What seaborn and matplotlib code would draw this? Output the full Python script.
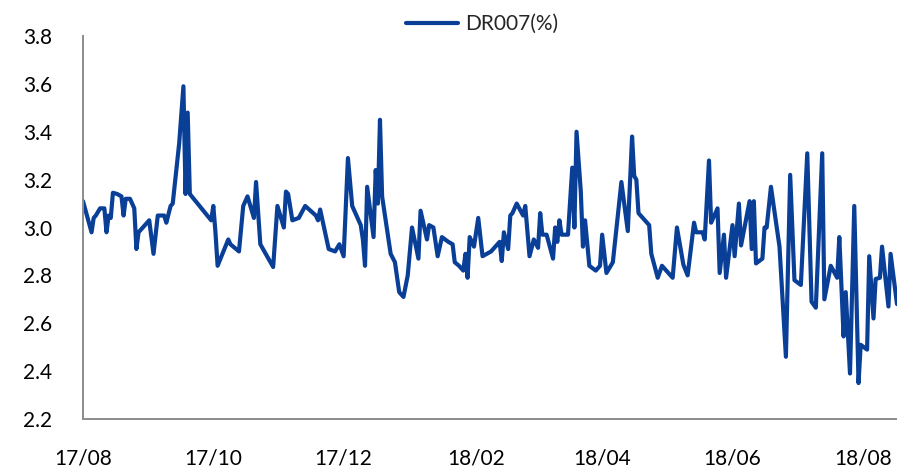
import matplotlib
matplotlib.use("Agg")
import matplotlib.pyplot as plt
import matplotlib.dates as mdates
import pandas as pd
import seaborn as sns

# DR007 interbank repo rate (%), Aug 2017 - Aug 2018
dates = [
    "2017-08-01", "2017-08-05", "2017-08-06", "2017-08-07", "2017-08-09", "2017-08-11",
    "2017-08-12", "2017-08-13", "2017-08-14", "2017-08-15", "2017-08-17", "2017-08-19",
    "2017-08-20", "2017-08-21", "2017-08-23", "2017-08-25", "2017-08-26", "2017-08-27",
    "2017-08-29", "2017-09-01", "2017-09-03", "2017-09-05", "2017-09-08", "2017-09-09",
    "2017-09-11", "2017-09-12", "2017-09-15", "2017-09-17", "2017-09-18", "2017-09-19",
    "2017-09-20", "2017-09-30", "2017-10-01", "2017-10-02", "2017-10-03", "2017-10-08",
    "2017-10-09", "2017-10-13", "2017-10-15", "2017-10-17", "2017-10-20", "2017-10-21",
    "2017-10-23", "2017-10-29", "2017-10-31", "2017-11-03", "2017-11-04", "2017-11-05",
    "2017-11-07", "2017-11-10", "2017-11-13", "2017-11-18", "2017-11-19", "2017-11-20",
    "2017-11-24", "2017-11-27", "2017-11-29", "2017-12-01", "2017-12-03", "2017-12-05",
    "2017-12-06", "2017-12-09", "2017-12-10", "2017-12-11", "2017-12-12", "2017-12-15",
    "2017-12-16", "2017-12-17", "2017-12-18", "2017-12-19", "2017-12-23", "2017-12-25",
    "2017-12-27", "2017-12-29", "2017-12-31", "2018-01-02", "2018-01-05", "2018-01-06",
    "2018-01-09", "2018-01-10", "2018-01-12", "2018-01-14", "2018-01-16", "2018-01-19",
    "2018-01-21", "2018-01-22", "2018-01-24", "2018-01-26", "2018-01-27", "2018-01-28",
    "2018-01-29", "2018-01-31", "2018-02-02", "2018-02-04", "2018-02-08", "2018-02-12",
    "2018-02-13", "2018-02-14", "2018-02-16", "2018-02-17", "2018-02-18", "2018-02-20",
    "2018-02-23", "2018-02-24", "2018-02-26", "2018-02-28", "2018-03-02", "2018-03-03",
    "2018-03-04", "2018-03-06", "2018-03-09", "2018-03-10", "2018-03-11", "2018-03-12",
    "2018-03-13", "2018-03-16", "2018-03-18", "2018-03-19", "2018-03-20", "2018-03-22",
    "2018-03-23", "2018-03-24", "2018-03-26", "2018-03-29", "2018-03-31", "2018-04-01",
    "2018-04-03", "2018-04-06", "2018-04-10", "2018-04-13", "2018-04-15", "2018-04-16",
    "2018-04-17", "2018-04-18", "2018-04-23", "2018-04-24", "2018-04-27", "2018-04-29",
    "2018-05-04", "2018-05-06", "2018-05-09", "2018-05-11", "2018-05-14", "2018-05-15",
    "2018-05-18", "2018-05-19", "2018-05-21", "2018-05-22", "2018-05-25", "2018-05-26",
    "2018-05-28", "2018-05-29", "2018-06-01", "2018-06-02", "2018-06-04", "2018-06-05",
    "2018-06-09", "2018-06-10", "2018-06-11", "2018-06-12", "2018-06-15", "2018-06-16",
    "2018-06-17", "2018-06-19", "2018-06-23", "2018-06-26", "2018-06-28", "2018-06-30",
    "2018-07-03", "2018-07-06", "2018-07-08", "2018-07-10", "2018-07-13", "2018-07-14",
    "2018-07-17", "2018-07-20", "2018-07-21", "2018-07-23", "2018-07-24", "2018-07-26",
    "2018-07-28", "2018-07-30", "2018-07-31", "2018-08-03", "2018-08-04", "2018-08-06",
    "2018-08-07", "2018-08-09", "2018-08-10", "2018-08-13", "2018-08-14", "2018-08-17",
]

dr007 = [
    3.11, 2.98, 3.04, 3.05, 3.08, 3.08,
    2.98, 3.05, 3.04, 3.145, 3.14, 3.13,
    3.05, 3.12, 3.12, 3.08, 2.91, 2.98,
    3.00, 3.03, 2.89, 3.05, 3.05, 3.02,
    3.09, 3.10, 3.35, 3.59, 3.14, 3.48,
    3.14, 3.03, 3.09, 2.98, 2.84, 2.95,
    2.93, 2.90, 3.09, 3.13, 3.04, 3.19,
    2.93, 2.835, 3.09, 3.00, 3.15, 3.14,
    3.03, 3.04, 3.09, 3.05, 3.03, 3.075,
    2.91, 2.90, 2.93, 2.88, 3.29, 3.09,
    3.07, 3.01, 2.95, 2.84, 3.17, 2.96,
    3.24, 3.10, 3.45, 3.13, 2.89, 2.855,
    2.73, 2.71, 2.80, 3.00, 2.87, 3.07,
    2.95, 3.01, 3.00, 2.88, 2.96, 2.94,
    2.93, 2.855, 2.84, 2.82, 2.89, 2.79,
    2.96, 2.92, 3.04, 2.88, 2.90, 2.94,
    2.86, 2.98, 2.91, 3.05, 3.06, 3.10,
    3.05, 3.09, 2.88, 2.95, 2.915, 3.06,
    2.97, 2.97, 2.87, 3.00, 2.94, 3.03,
    2.97, 2.97, 3.25, 3.00, 3.40, 3.15,
    2.92, 3.03, 2.84, 2.82, 2.84, 2.97,
    2.81, 2.855, 3.19, 2.985, 3.38, 3.215,
    3.20, 3.06, 3.01, 2.89, 2.79, 2.84,
    2.79, 3.00, 2.845, 2.80, 3.02, 2.98,
    2.98, 2.95, 3.28, 3.02, 3.08, 2.81,
    2.97, 2.79, 3.01, 2.88, 3.10, 2.925,
    3.11, 2.91, 3.11, 2.85, 2.87, 3.00,
    3.00, 3.17, 2.92, 2.46, 3.22, 2.78,
    2.76, 3.31, 2.69, 2.665, 3.31, 2.70,
    2.84, 2.79, 2.96, 2.545, 2.73, 2.39,
    3.09, 2.35, 2.51, 2.49, 2.88, 2.62,
    2.785, 2.79, 2.92, 2.67, 2.89, 2.68,
]

y_ticks = [2.2, 2.4, 2.6, 2.8, 3.0, 3.2, 3.4, 3.6, 3.8]
x_start, x_end = "2017-08-01", "2018-08-17"
series_label = "DR007(%)"

df = pd.DataFrame({"date": pd.to_datetime(dates), "value": dr007})

sns.set_theme(style="white")
plt.rcParams["font.family"] = ["Lato", "DejaVu Sans"]

fig = plt.figure(figsize=(8.97, 4.68), dpi=100)
ax = fig.add_axes([83 / 897, 1 - 419 / 468, 1 - 83 / 897, (419 - 36) / 468])

line_color = "#0A3F98"
sns.lineplot(data=df, x="date", y="value", ax=ax, color=line_color,
             linewidth=3.0, label=series_label, legend=False)

ax.set_xlim(pd.Timestamp(x_start), pd.Timestamp(x_end))
ax.set_ylim(y_ticks[0], y_ticks[-1])
ax.set_yticks(y_ticks)
ax.yaxis.set_major_formatter(matplotlib.ticker.FormatStrFormatter("%.1f"))
ax.xaxis.set_major_locator(mdates.MonthLocator(bymonth=[2, 4, 6, 8, 10, 12]))
ax.xaxis.set_major_formatter(mdates.DateFormatter("%y/%m"))

ax.set_xlabel("")
ax.set_ylabel("")
ax.grid(False)
for side in ("top", "right"):
    ax.spines[side].set_visible(False)
for side in ("left", "bottom"):
    ax.spines[side].set_color("#8C8C8C")
    ax.spines[side].set_linewidth(1.4)

ax.tick_params(axis="both", length=0, labelsize=15, colors="black")
ax.tick_params(axis="y", pad=22)
ax.tick_params(axis="x", pad=21)

handles, labels = ax.get_legend_handles_labels()
fig.legend(handles, labels, loc="center", bbox_to_anchor=(482 / 897, 1 - 24 / 468),
           frameon=False, fontsize=15, handlelength=2.5, handletextpad=0.35)

fig.savefig("out.png", dpi=100)
